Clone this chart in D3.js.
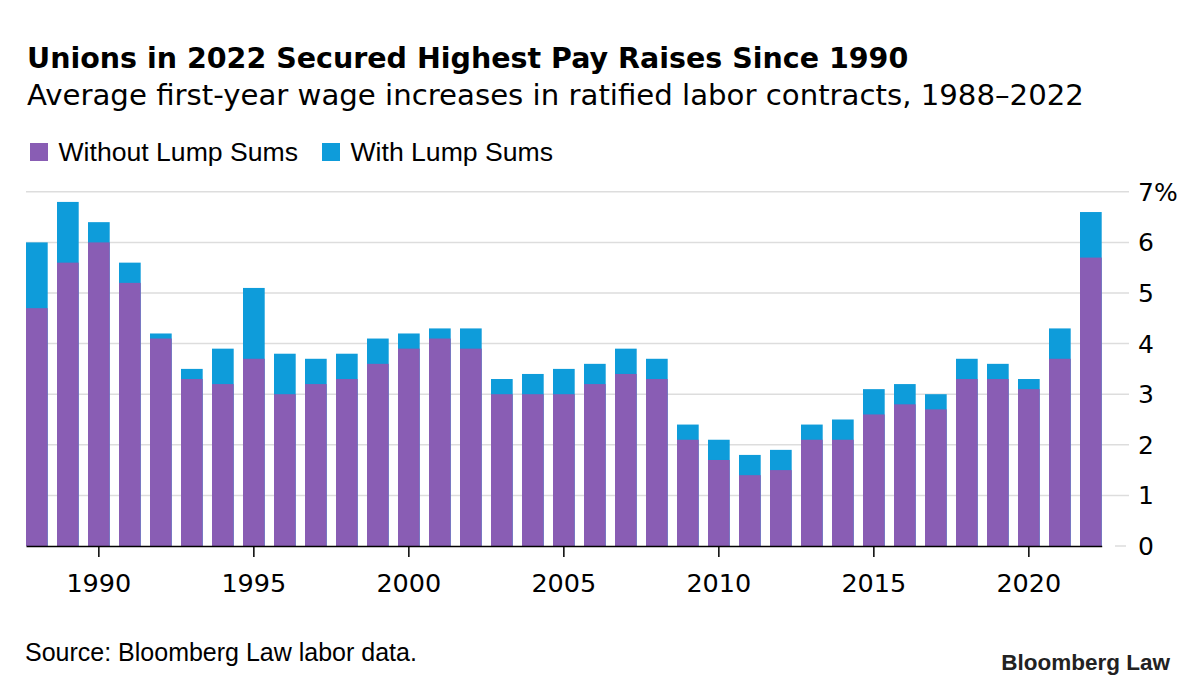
<!DOCTYPE html>
<html>
<head>
<meta charset="utf-8">
<script src="https://cdn.jsdelivr.net/npm/d3@7"></script>
<style>
  body { margin: 0; background: #fff; }
  text { font-family: "Liberation Sans", Arial, sans-serif; fill: #000; }
  .wide { font-family: "DejaVu Sans", sans-serif; }
</style>
</head>
<body>
<div id="chart"></div>
<script>
// data
var years = d3.range(1988, 2023);
var withoutLump = [4.7, 5.6, 6.0, 5.2, 4.1, 3.3, 3.2, 3.7, 3.0, 3.2, 3.3, 3.6,
    3.9, 4.1, 3.9, 3.0, 3.0, 3.0, 3.2, 3.4, 3.3, 2.1, 1.7, 1.4, 1.5, 2.1, 2.1,
    2.6, 2.8, 2.7, 3.3, 3.3, 3.1, 3.7, 5.7];
var withLump = [6.0, 6.8, 6.4, 5.6, 4.2, 3.5, 3.9, 5.1, 3.8, 3.7, 3.8, 4.1,
    4.2, 4.3, 4.3, 3.3, 3.4, 3.5, 3.6, 3.9, 3.7, 2.4, 2.1, 1.8, 1.9, 2.4, 2.5,
    3.1, 3.2, 3.0, 3.7, 3.6, 3.3, 4.3, 6.6];
var xTicks = [1990, 1995, 2000, 2005, 2010, 2015, 2020];
var yTicks = [0, 1, 2, 3, 4, 5, 6, 7];

var purple = "#895db4",
    blue = "#0e9cda";

var width = 1200,
    height = 689;

var svg = d3.select("#chart").append("svg")
    .attr("width", width)
    .attr("height", height);

// titles
svg.append("text")
    .attr("class", "wide")
    .attr("x", 27)
    .attr("y", 68)
    .style("font-size", "28.5px")
    .style("font-weight", "bold")
    .text("Unions in 2022 Secured Highest Pay Raises Since 1990");

svg.append("text")
    .attr("class", "wide")
    .attr("x", 27)
    .attr("y", 105)
    .style("font-size", "29.2px")
    .text("Average first-year wage increases in ratified labor contracts, 1988\u20132022");

// legend
var legend = [
    { label: "Without Lump Sums", color: purple, x: 30 },
    { label: "With Lump Sums", color: blue, x: 322 }
];
var lg = svg.selectAll(".legend")
    .data(legend)
    .enter().append("g")
    .attr("class", "legend")
    .attr("transform", function (d) { return "translate(" + d.x + ",143)"; });
lg.append("rect")
    .attr("width", 18)
    .attr("height", 18)
    .attr("fill", function (d) { return d.color; });
lg.append("text")
    .attr("x", 28.5)
    .attr("y", 18)
    .style("font-size", "26.6px")
    .text(function (d) { return d.label; });

// scales
var x = d3.scaleBand()
    .domain(years)
    .range([26, 1101.7])
    .paddingInner(0.3)
    .paddingOuter(0);

var y = d3.scaleLinear()
    .domain([0, 7])
    .range([546, 191.8]);

// gridlines
svg.append("g")
    .selectAll("line")
    .data(yTicks.filter(function (d) { return d > 0; }))
    .enter().append("line")
    .attr("x1", 26)
    .attr("x2", 1129)
    .attr("y1", function (d) { return y(d); })
    .attr("y2", function (d) { return y(d); })
    .attr("stroke", "#dddddd")
    .attr("stroke-width", 1.5);

svg.append("line")
    .attr("x1", 1115)
    .attr("x2", 1126)
    .attr("y1", y(0))
    .attr("y2", y(0))
    .attr("stroke", "#dddddd")
    .attr("stroke-width", 1.5);

// y labels
svg.append("g")
    .selectAll("text")
    .data(yTicks)
    .enter().append("text")
    .attr("class", "wide")
    .attr("x", 1138)
    .attr("y", function (d) { return y(d); })
    .attr("dy", "0.36em")
    .style("font-size", "25px")
    .text(function (d) { return d === 7 ? "7%" : d; });

// bars: full height with lump sums, then without on top
var bars = svg.append("g");
bars.selectAll(".with")
    .data(years)
    .enter().append("rect")
    .attr("class", "with")
    .attr("x", function (d) { return x(d); })
    .attr("width", x.bandwidth())
    .attr("y", function (d, i) { return y(withLump[i]); })
    .attr("height", function (d, i) { return y(0) - y(withLump[i]); })
    .attr("fill", blue);

bars.selectAll(".without")
    .data(years)
    .enter().append("rect")
    .attr("class", "without")
    .attr("x", function (d) { return x(d); })
    .attr("width", x.bandwidth())
    .attr("y", function (d, i) { return y(withoutLump[i]); })
    .attr("height", function (d, i) { return y(0) - y(withoutLump[i]); })
    .attr("fill", purple);

// x axis
var xAxis = svg.append("g")
    .attr("transform", "translate(0," + y(0) + ")")
    .call(d3.axisBottom(x)
        .tickValues(xTicks)
        .tickSize(11)
        .tickSizeOuter(0)
        .tickPadding(17));
xAxis.select(".domain")
    .attr("stroke", "#000")
    .attr("stroke-width", 1.5);
xAxis.selectAll(".tick line")
    .attr("stroke", "#000")
    .attr("stroke-width", 1.5);
xAxis.selectAll(".tick text")
    .style("font-size", "25.5px")
    .style("font-family", "'DejaVu Sans', sans-serif")
    .attr("fill", "#000");

// source and logo
svg.append("text")
    .attr("x", 25)
    .attr("y", 661)
    .style("font-size", "25px")
    .text("Source: Bloomberg Law labor data.");

svg.append("text")
    .attr("x", 1170)
    .attr("y", 670)
    .attr("text-anchor", "end")
    .style("font-size", "22.5px")
    .style("font-weight", "bold")
    .style("fill", "#222")
    .text("Bloomberg Law");
</script>
</body>
</html>
